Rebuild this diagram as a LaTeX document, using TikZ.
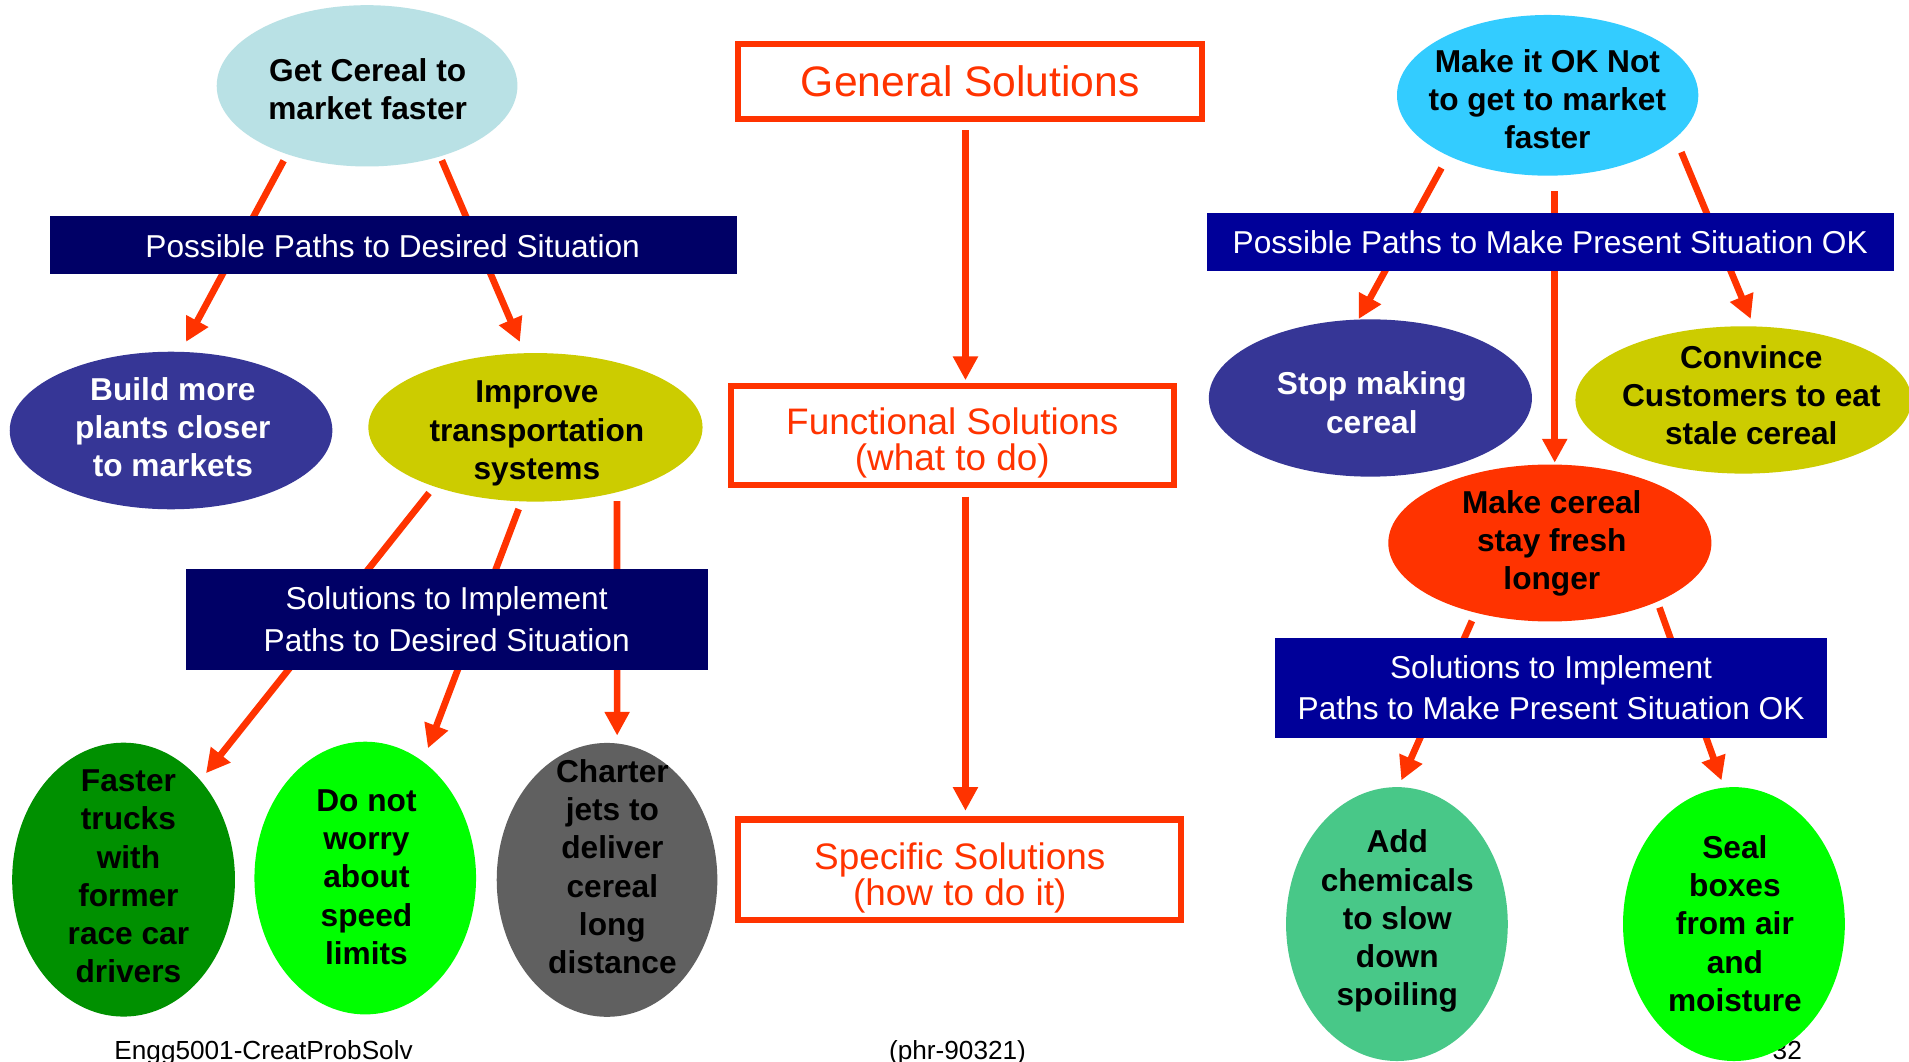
\documentclass[tikz,border=0pt]{standalone}
\usepackage{fontspec}
\setmainfont{Liberation Sans}
\usetikzlibrary{shapes.geometric,arrows.meta}
\setlength{\lineskiplimit}{-50pt}
\definecolor{arrowred}{HTML}{FF3300}
\definecolor{navyA}{HTML}{000066}
\definecolor{navyB}{HTML}{000099}
\definecolor{paleblue}{HTML}{B9E1E5}
\definecolor{skyblue}{HTML}{33CCFF}
\definecolor{indigo}{HTML}{363696}
\definecolor{olive}{HTML}{CCCC00}
\definecolor{darkgreen}{HTML}{009000}
\definecolor{brightgreen}{HTML}{00FF00}
\definecolor{slate}{HTML}{606060}
\definecolor{seagreen}{HTML}{48C888}
\begin{document}
\begin{tikzpicture}[x=1pt,y=-1pt,
  blob/.style 2 args={ellipse, draw=none, inner sep=0pt, outer sep=0pt,
    minimum width=#1pt, minimum height=#2pt},
  bar/.style 2 args={rectangle, draw=none, inner sep=0pt, outer sep=0pt,
    minimum width=#1pt, minimum height=#2pt},
  frame/.style 2 args={rectangle, draw=arrowred, line width=5pt, fill=white,
    inner sep=0pt, outer sep=0pt, minimum width=#1pt, minimum height=#2pt},
  etxt/.style={align=center, inner sep=0pt,
    font=\bfseries\fontsize{26}{31.4}\selectfont},
  btxt/.style={align=center, inner sep=0pt, text=white,
    font=\fontsize{26}{34}\selectfont},
  rtxt/.style={align=center, inner sep=0pt, text=arrowred,
    font=\fontsize{30.3}{29.4}\selectfont},
  foot/.style={inner sep=0pt, anchor=base, font=\fontsize{21.5}{24}\selectfont},
  arr/.style={draw=arrowred, line width=5.5pt,
    -{Triangle[width=19.5pt,length=19.5pt]}},
  arrm/.style={arr, line width=6.5pt}]

\fill[white] (0,0) rectangle (1568,872);
\useasboundingbox (0,0) rectangle (1568,872);
\clip (0,0) rectangle (1568,872);

% footer line
\node[foot] (f1) at (216.5,870.5) {Engg5001-CreatProbSolv};
\node[foot] (f2) at (786.5,870.5) {(phr-90321)};
\node[foot] (f3) at (1468,870.5) {32};

% left tree: getting cereal to market faster
\node[blob={247}{132.5}, fill=paleblue] (e1) at (301.5,70.5) {};
\node[blob={265}{129.4}, fill=indigo] (e2) at (140.5,353.6) {};
\node[blob={274.5}{122}, fill=olive] (e3) at (439.8,351) {};
\node[blob={183}{225}, fill=darkgreen] (e4) at (101.5,722.5) {};
\node[blob={182}{224}, fill=brightgreen] (e5) at (300,721.2) {};
\node[blob={181.2}{225}, fill=slate] (e6) at (498.6,722.7) {};

% right tree: making the present situation OK
\node[blob={247.5}{132}, fill=skyblue] (e7) at (1271.2,78.3) {};
\node[blob={265.4}{129.2}, fill=indigo] (e8) at (1125.6,326.9) {};
\node[blob={276}{121}, fill=olive] (e9) at (1432,328.5) {};
\node[blob={265.4}{128.9}, fill=arrowred] (e10) at (1273,446) {};
\node[blob={182.1}{225}, fill=seagreen] (e11) at (1147.4,759) {};
\node[blob={182.2}{225}, fill=brightgreen] (e12) at (1424.2,759) {};

% centre column: levels of solutions
\node[frame={381}{61.8}] (b1) at (796.7,66.8) {};
\node[frame={363.8}{81.3}] (b2) at (782.1,357.55) {};
\node[frame={363.8}{82.3}] (b3) at (788.1,714.25) {};

% connectors
\draw[arr] ([shift={(-68.5,61.5)}]e1.center) -- ([shift={(12.3,-72.8)}]e2.center);
\draw[arr] ([shift={(61.4,61.2)}]e1.center) -- ([shift={(-12.8,-70.1)}]e3.center);
\draw[arr] ([shift={(-87.4,53.9)}]e3.center) -- ([shift={(67.7,-87.4)}]e4.center);
\draw[arr] ([shift={(-13.8,67.1)}]e3.center) -- ([shift={(51.5,-106.6)}]e5.center);
\draw[arr] ([shift={(67,60.7)}]e3.center) -- ([shift={(8.3,-118.5)}]e6.center);

\draw[arrm] ([shift={(-3.7,40.2)}]b1.center) -- ([shift={(10.9,-45.25)}]b2.center);
\draw[arrm] ([shift={(10.9,50.45)}]b2.center) -- ([shift={(4.9,-48.25)}]b3.center);

\draw[arr] ([shift={(-87.2,59.7)}]e7.center) -- ([shift={(-9.6,-64.9)}]e8.center);
\draw[arr] ([shift={(5.8,78.7)}]e7.center) -- ([shift={(4,-66)}]e10.center);
\draw[arr] ([shift={(109.8,46.7)}]e7.center) -- ([shift={(6,-66.5)}]e9.center);
\draw[arr] ([shift={(-64,64)}]e10.center) -- ([shift={(3.6,-118)}]e11.center);
\draw[arr] ([shift={(90,53)}]e10.center) -- ([shift={(-10.2,-118)}]e12.center);

% banners laid over the connectors
\node[bar={564.3}{47.5}, fill=navyA] (p1) at (323.15,201.35) {};
\node[bar={428.8}{82.9}, fill=navyA] (p2) at (367.3,508.9) {};
\node[bar={564.2}{47.1}, fill=navyB] (p3) at (1273.5,198.75) {};
\node[bar={453.6}{82.1}, fill=navyB] (p4) at (1273.9,564.85) {};

% banner texts
\node[btxt, anchor=base] (p1t) at (322.5,211.8) {Possible Paths to Desired Situation};
\node[btxt] (p2t) at (366.9,511.2) {\strut Solutions to Implement\\\strut Paths to Desired Situation};
\node[btxt, anchor=base] (p3t) at (1273.3,208.6) {Possible Paths to Make Present Situation OK};
\node[btxt] (p4t) at (1274,567.5) {\strut Solutions to Implement\\\strut Paths to Make Present Situation OK};

% box texts
\node[rtxt, anchor=base, font=\fontsize{35}{30}\selectfont] (b1t) at (797,79.6) {General Solutions};
\node[rtxt] (b2t) at (782.2,365) {\strut Functional Solutions\\\strut (what to do)};
\node[rtxt] (b3t) at (788.3,722.7) {\strut Specific Solutions\\\strut (how to do it)};

% ellipse texts
\node[etxt] (e1t) at (302,76.4) {\strut Get Cereal to\\\strut market faster};
\node[etxt, text=white] (e2t) at (142,354.1) {\strut Build more\\\strut plants closer\\\strut to markets};
\node[etxt] (e3t) at (441,356.1) {\strut Improve\\\strut transportation\\\strut systems};
\node[etxt] (e4t) at (105.5,722.5) {\strut Faster\\\strut trucks\\\strut with\\\strut former\\\strut race car\\\strut drivers};
\node[etxt] (e5t) at (301,723) {\strut Do not\\\strut worry\\\strut about\\\strut speed\\\strut limits};
\node[etxt] (e6t) at (503,714.9) {\strut Charter\\\strut jets to\\\strut deliver\\\strut cereal\\\strut long\\\strut distance};
\node[etxt] (e7t) at (1271,84.7) {\strut Make it OK Not\\\strut to get to market\\\strut faster};
\node[etxt, text=white] (e8t) at (1126.8,333.8) {\strut Stop making\\\strut cereal};
\node[etxt] (e9t) at (1438.5,327.6) {\strut Convince\\\strut Customers to eat\\\strut stale cereal};
\node[etxt] (e10t) at (1274.6,446.8) {\strut Make cereal\\\strut stay fresh\\\strut longer};
\node[etxt] (e11t) at (1147.7,757) {\strut Add\\\strut chemicals\\\strut to slow\\\strut down\\\strut spoiling};
\node[etxt] (e12t) at (1425,761.6) {\strut Seal\\\strut boxes\\\strut from air\\\strut and\\\strut moisture};
\end{tikzpicture}
\end{document}
